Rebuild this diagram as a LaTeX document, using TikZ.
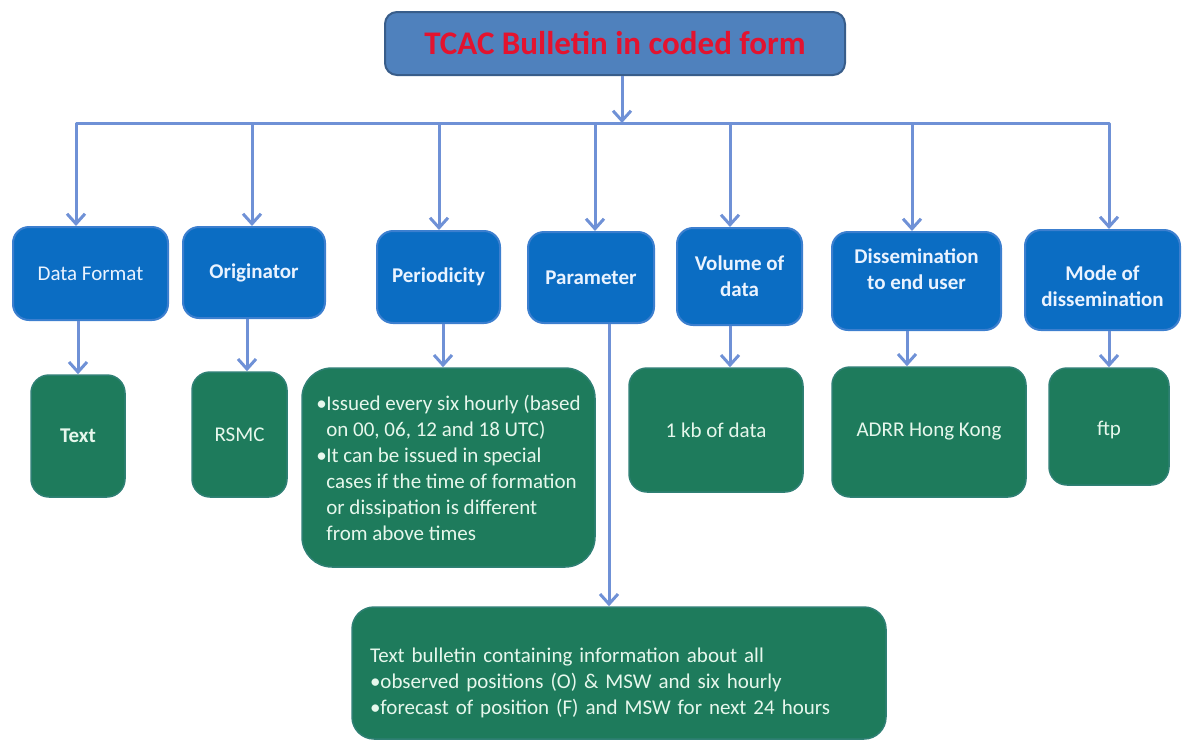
\documentclass[tikz,border=0pt]{standalone}
\usepackage{fontspec}
\setmainfont{Carlito}
\usetikzlibrary{arrows.meta}
\definecolor{titlefill}{HTML}{4F81BD}
\definecolor{titledraw}{HTML}{385D8A}
\definecolor{titletext}{HTML}{E3132F}
\definecolor{bluefill}{HTML}{0B6DC3}
\definecolor{bluedraw}{HTML}{3C7FCF}
\definecolor{greenfill}{HTML}{1E7B5C}
\definecolor{greendraw}{HTML}{2F8074}
\definecolor{conncol}{HTML}{6F91D6}
\definecolor{bluetext}{HTML}{EAF3FF}
\definecolor{greentext}{HTML}{E6F7EC}
\tikzset{
 titlebox/.style={draw=titledraw, fill=titlefill, line width=2pt, rounded corners=12pt, inner sep=0pt, text=titletext, font=\fontsize{33}{38}\selectfont\bfseries},
 bluebox/.style={draw=bluedraw, fill=bluefill, line width=2pt, rounded corners=16pt, inner sep=0pt, text=bluetext, align=center, font=\fontsize{21}{26}\selectfont},
 greenbox/.style={draw=greendraw, fill=greenfill, line width=1.5pt, rounded corners=18pt, inner sep=0pt, text=greentext, align=center, font=\fontsize{21}{26}\selectfont},
 conn/.style={draw=conncol, line width=3pt, line join=round},
 arr/.style={conn, -{Straight Barb[length=10pt,width=18pt]}},
 barr/.style={conn, {Straight Barb[length=10pt,width=18pt]}-{Straight Barb[length=10pt,width=18pt]}},
}
\begin{document}
\begin{tikzpicture}[x=1pt,y=-1pt]
\useasboundingbox (0,0) rectangle (1182,742);
% title
\node[titlebox, minimum width=460pt, minimum height=63pt] (title) at (615,43.5) {TCAC Bulletin in coded form};
% blue boxes
\node[bluebox, minimum width=155pt, minimum height=93pt] (df) at (90.5,273.5) {Data Format};
\node[bluebox, minimum width=142pt, minimum height=91pt, font=\fontsize{21}{26}\selectfont\bfseries] (orig) at (254,272.5) {Originator};
\node[bluebox, minimum width=123pt, minimum height=92pt, font=\fontsize{21}{26}\selectfont\bfseries] (per) at (438.5,277) {Periodicity};
\node[bluebox, minimum width=126pt, minimum height=91pt, font=\fontsize{21}{26}\selectfont\bfseries] (par) at (591,277.5) {Parameter};
\node[bluebox, minimum width=125pt, minimum height=97pt, font=\fontsize{21}{26}\selectfont\bfseries] (vol) at (739.5,276.5) {Volume of\\data};
\node[bluebox, minimum width=169pt, minimum height=98pt, font=\fontsize{21}{26}\selectfont\bfseries] (dis) at (916.5,281) {Dissemination\\to end user\rule[-23pt]{0pt}{23pt}};
\node[bluebox, minimum width=155pt, minimum height=100pt, font=\fontsize{21}{26}\selectfont\bfseries] (mode) at (1102.5,280) {\rule{0pt}{27pt}Mode of\\dissemination};
% green boxes
\node[greenbox, minimum width=94pt, minimum height=122pt, font=\fontsize{21}{26}\selectfont\bfseries] (txt) at (78,436) {Text};
\node[greenbox, minimum width=95pt, minimum height=125pt] (rsmc) at (239.5,434.5) {RSMC};
\node[greenbox, minimum width=293pt, minimum height=199pt, rounded corners=30pt, align=left] (perd) at (448.5,467.5) {\makebox[10pt][l]{•}Issued every six hourly (based\\\hspace*{10pt}on 00, 06, 12 and 18 UTC)\\\makebox[10pt][l]{•}It can be issued in special\\\hspace*{10pt}cases if the time of formation\\\hspace*{10pt}or dissipation is different\\\hspace*{10pt}from above times};
\node[greenbox, minimum width=174pt, minimum height=124pt] (kb) at (716,430) {1 kb of data};
\node[greenbox, minimum width=194pt, minimum height=130pt] (adrr) at (929,432) {ADRR Hong Kong};
\node[greenbox, minimum width=120pt, minimum height=117pt] (ftp) at (1109,426.5) {\rule{0pt}{22pt}ftp};
\node[greenbox, minimum width=534pt, minimum height=132pt, rounded corners=22pt, text width=498pt, align=left] (pard) at (619,673) {\rule{0pt}{35pt}Text bulletin containing information about all\\•observed positions (O) \& MSW and six hourly\\•forecast of position (F) and MSW for next 24 hours};
% bus coordinates
\coordinate (t0) at (622,123);
\coordinate (busL) at (76,123);
\coordinate (b2) at (252,123);
\coordinate (b3) at (439,123);
\coordinate (b4) at (595,123);
\coordinate (b5) at (730,123);
\coordinate (b6) at (912,123);
\coordinate (busR) at (1109,123);
\draw[arr] (title.south -| t0) -- (t0);
\draw[barr] (df.north -| busL) -- (busL) -- (busR) -- (mode.north -| busR);
\draw[arr] (b2) -- (b2 |- orig.north);
\draw[arr] (b3) -- (b3 |- per.north);
\draw[arr] (b4) -- (b4 |- par.north);
\draw[arr] (b5) -- (b5 |- vol.north);
\draw[arr] (b6) -- (b6 |- dis.north);
% lower connectors
\coordinate (l1) at (78,0);
\coordinate (l2) at (247,0);
\coordinate (l3) at (443,0);
\coordinate (l4) at (609,0);
\coordinate (l5) at (730,0);
\coordinate (l6) at (907,0);
\coordinate (l7) at (1109,0);
\draw[arr] (df.south -| l1) -- (txt.north -| l1);
\draw[arr] (orig.south -| l2) -- (rsmc.north -| l2);
\draw[arr] (per.south -| l3) -- (perd.north -| l3);
\draw[arr] (par.south -| l4) -- (pard.north -| l4);
\draw[arr] (vol.south -| l5) -- (kb.north -| l5);
\draw[arr] (dis.south -| l6) -- (adrr.north -| l6);
\draw[arr] (mode.south -| l7) -- (ftp.north -| l7);
\end{tikzpicture}
\end{document}
